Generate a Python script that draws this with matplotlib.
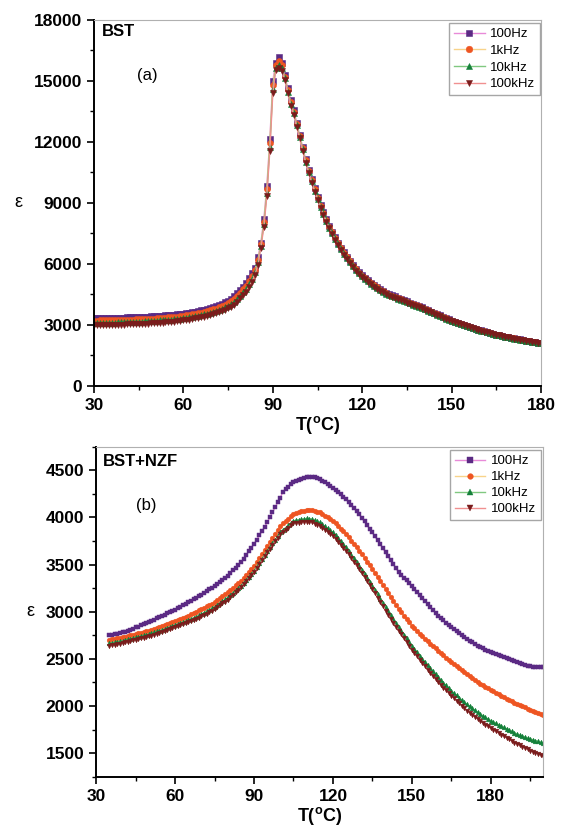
import matplotlib
matplotlib.use('Agg')
import matplotlib.pyplot as plt
from matplotlib.ticker import MultipleLocator

plt.rcParams['font.family'] = ['Liberation Sans', 'DejaVu Sans']
plt.rcParams['mathtext.fontset'] = 'custom'
plt.rcParams['mathtext.rm'] = 'Liberation Sans'
plt.rcParams['mathtext.bf'] = 'Liberation Sans:bold'

labels = ['100Hz', '1kHz', '10kHz', '100kHz']

# (a) BST, T = 30..180 in 1 degree steps
t_a = list(range(30, 181))
bst_100hz = [
    3330, 3332, 3335, 3338, 3341, 3345, 3348, 3352, 3356, 3360,
    3365, 3370, 3375, 3380, 3386, 3392, 3398, 3405, 3412, 3420,
    3428, 3437, 3446, 3456, 3467, 3480, 3494, 3509, 3525, 3542,
    3560, 3580, 3602, 3626, 3652, 3680, 3712, 3746, 3784, 3826,
    3880, 3930, 3985, 4045, 4115, 4195, 4290, 4410, 4560, 4720,
    4885, 5050, 5290, 5540, 5820, 6330, 7050, 8195, 9850, 12130,
    15000, 15870, 16160, 15900, 15290, 14640, 14060, 13570, 12950, 12340,
    11770, 11150, 10620, 10160, 9720, 9310, 8900, 8570, 8195, 7870,
    7590, 7310, 7050, 6800, 6570, 6360, 6160, 5950, 5770, 5605,
    5460, 5330, 5205, 5085, 4975, 4870, 4770, 4675, 4590, 4520,
    4460, 4400, 4340, 4280, 4220, 4160, 4100, 4040, 3985, 3925,
    3870, 3800, 3730, 3660, 3595, 3530, 3465, 3400, 3335, 3270,
    3200, 3150, 3100, 3050, 3000, 2950, 2905, 2860, 2815, 2770,
    2730, 2690, 2650, 2610, 2570, 2530, 2500, 2465, 2430, 2400,
    2370, 2340, 2310, 2285, 2258, 2230, 2205, 2180, 2155, 2132, 2110]
bst_1khz = [
    3215, 3217, 3220, 3223, 3226, 3230, 3233, 3237, 3241, 3245,
    3250, 3255, 3260, 3265, 3271, 3277, 3283, 3290, 3297, 3305,
    3315, 3324, 3333, 3343, 3354, 3367, 3381, 3396, 3412, 3429,
    3448, 3468, 3490, 3514, 3540, 3568, 3600, 3634, 3672, 3714,
    3760, 3808, 3862, 3920, 3988, 4067, 4158, 4273, 4420, 4583,
    4748, 4913, 5155, 5403, 5700, 6200, 6970, 8070, 9680, 11940,
    14800, 15760, 15980, 15770, 15210, 14560, 13960, 13490, 12880, 12285,
    11700, 11090, 10565, 10105, 9665, 9255, 8845, 8515, 8155, 7830,
    7548, 7268, 7010, 6763, 6533, 6320, 6123, 5917, 5737, 5572,
    5428, 5298, 5175, 5057, 4947, 4843, 4743, 4650, 4565, 4497,
    4437, 4377, 4317, 4258, 4199, 4140, 4081, 4021, 3967, 3908,
    3853, 3784, 3715, 3645, 3581, 3517, 3452, 3388, 3324, 3259,
    3190, 3141, 3091, 3042, 2993, 2943, 2899, 2855, 2810, 2766,
    2723, 2684, 2645, 2605, 2566, 2527, 2497, 2462, 2428, 2398,
    2363, 2334, 2305, 2280, 2253, 2226, 2201, 2177, 2152, 2129, 2105]
bst_10khz = [
    3097, 3099, 3102, 3105, 3108, 3112, 3115, 3119, 3123, 3127,
    3135, 3140, 3145, 3150, 3156, 3162, 3168, 3175, 3182, 3190,
    3201, 3210, 3219, 3229, 3240, 3253, 3267, 3282, 3298, 3315,
    3337, 3357, 3379, 3403, 3429, 3457, 3489, 3523, 3561, 3603,
    3640, 3687, 3738, 3795, 3862, 3938, 4027, 4137, 4285, 4447,
    4612, 4777, 5020, 5267, 5580, 6080, 6900, 7950, 9510, 11760,
    14600, 15650, 15800, 15630, 15130, 14470, 13870, 13410, 12810, 12235,
    11635, 11035, 10515, 10055, 9610, 9200, 8790, 8460, 8115, 7790,
    7503, 7223, 6970, 6723, 6493, 6280, 6087, 5883, 5703, 5538,
    5393, 5268, 5145, 5027, 4917, 4815, 4717, 4622, 4540, 4472,
    4412, 4354, 4296, 4236, 4178, 4120, 4061, 4002, 3949, 3890,
    3836, 3768, 3700, 3630, 3567, 3504, 3440, 3376, 3312, 3248,
    3180, 3131, 3082, 3034, 2985, 2936, 2893, 2850, 2805, 2762,
    2717, 2678, 2640, 2600, 2562, 2524, 2494, 2460, 2425, 2396,
    2357, 2328, 2300, 2275, 2248, 2222, 2198, 2174, 2149, 2126, 2100]
bst_100khz = [
    2980, 2982, 2985, 2988, 2991, 2995, 2998, 3002, 3006, 3010,
    3020, 3025, 3030, 3035, 3041, 3047, 3053, 3060, 3067, 3075,
    3088, 3097, 3106, 3116, 3127, 3140, 3154, 3169, 3185, 3202,
    3225, 3245, 3267, 3291, 3317, 3345, 3377, 3411, 3449, 3491,
    3520, 3565, 3615, 3670, 3735, 3810, 3895, 4000, 4150, 4310,
    4475, 4640, 4885, 5130, 5460, 5950, 6800, 7830, 9340, 11570,
    14390, 15540, 15620, 15500, 15050, 14390, 13770, 13330, 12750, 12180,
    11570, 10980, 10460, 10000, 9555, 9145, 8740, 8410, 8080, 7750,
    7460, 7180, 6930, 6690, 6460, 6240, 6050, 5850, 5670, 5505,
    5360, 5235, 5115, 4998, 4890, 4788, 4690, 4598, 4515, 4447,
    4390, 4332, 4274, 4216, 4158, 4100, 4042, 3984, 3931, 3873,
    3820, 3752, 3684, 3616, 3553, 3490, 3427, 3364, 3301, 3238,
    3170, 3122, 3074, 3026, 2978, 2930, 2887, 2844, 2801, 2758,
    2710, 2672, 2634, 2596, 2558, 2520, 2491, 2457, 2423, 2394,
    2350, 2322, 2294, 2270, 2244, 2218, 2194, 2170, 2146, 2124, 2095]

# (b) BST+NZF, T = 35..200 in 1 degree steps
t_b = list(range(35, 201))
nzf_100hz = [
    2750, 2755, 2760, 2767, 2773,
    2780, 2790, 2800, 2811, 2822, 2833, 2843, 2854, 2865, 2876,
    2887, 2901, 2915, 2929, 2943, 2957, 2970, 2983, 2996, 3009,
    3021, 3037, 3052, 3068, 3083, 3099, 3115, 3131, 3148, 3164,
    3180, 3199, 3218, 3237, 3256, 3275, 3296, 3317, 3338, 3360,
    3381, 3409, 3437, 3465, 3493, 3522, 3561, 3600, 3639, 3678,
    3716, 3762, 3808, 3854, 3900, 3946, 3999, 4052, 4105, 4158,
    4210, 4270, 4300, 4325, 4350, 4370, 4382, 4394, 4405, 4414,
    4422, 4426, 4430, 4428, 4418, 4405, 4390, 4375, 4355, 4336,
    4316, 4292, 4268, 4243, 4218, 4193, 4161, 4129, 4098, 4066,
    4034, 3995, 3956, 3918, 3879, 3840, 3798, 3755, 3713, 3670,
    3628, 3586, 3543, 3501, 3458, 3416, 3386, 3356, 3332, 3304,
    3275, 3243, 3211, 3180, 3148, 3116, 3084, 3052, 3021, 2989,
    2957, 2932, 2907, 2883, 2858, 2833, 2812, 2791, 2770, 2749,
    2728, 2710, 2693, 2675, 2658, 2640, 2626, 2612, 2597, 2583,
    2569, 2558, 2548, 2537, 2527, 2516, 2505, 2495, 2484, 2474,
    2463, 2455, 2446, 2438, 2429, 2421, 2418, 2415, 2413, 2411,
    2410]
nzf_1khz = [
    2700, 2706, 2711, 2717, 2722,
    2728, 2735, 2742, 2749, 2756, 2763, 2770, 2777, 2785, 2792,
    2799, 2809, 2820, 2830, 2841, 2851, 2862, 2872, 2883, 2893,
    2904, 2915, 2925, 2936, 2946, 2957, 2971, 2985, 3000, 3014,
    3028, 3042, 3056, 3071, 3085, 3099, 3120, 3141, 3162, 3183,
    3204, 3229, 3254, 3278, 3303, 3328, 3360, 3392, 3423, 3455,
    3487, 3529, 3572, 3614, 3657, 3699, 3741, 3784, 3826, 3868,
    3910, 3935, 3960, 3984, 4009, 4034, 4043, 4052, 4062, 4071,
    4080, 4080, 4079, 4070, 4061, 4052, 4034, 4016, 3999, 3981,
    3963, 3935, 3907, 3878, 3850, 3822, 3787, 3752, 3716, 3681,
    3646, 3607, 3568, 3530, 3491, 3452, 3410, 3367, 3325, 3282,
    3240, 3198, 3155, 3113, 3070, 3028, 2993, 2957, 2922, 2886,
    2851, 2823, 2795, 2766, 2738, 2710, 2685, 2661, 2636, 2612,
    2587, 2562, 2537, 2513, 2488, 2463, 2442, 2421, 2399, 2378,
    2357, 2336, 2315, 2293, 2272, 2251, 2236, 2220, 2205, 2189,
    2174, 2158, 2142, 2125, 2109, 2093, 2079, 2065, 2050, 2036,
    2022, 2010, 1998, 1986, 1974, 1962, 1951, 1939, 1928, 1916,
    1905]
nzf_10khz = [
    2665, 2671, 2676, 2682, 2687,
    2693, 2700, 2707, 2714, 2721, 2728, 2735, 2742, 2749, 2756,
    2763, 2772, 2781, 2791, 2800, 2809, 2819, 2829, 2838, 2848,
    2858, 2869, 2879, 2890, 2900, 2911, 2924, 2937, 2949, 2962,
    2975, 2991, 3006, 3022, 3037, 3053, 3073, 3092, 3112, 3131,
    3151, 3176, 3200, 3225, 3250, 3275, 3307, 3339, 3370, 3402,
    3434, 3476, 3519, 3561, 3604, 3646, 3685, 3724, 3762, 3801,
    3840, 3865, 3889, 3914, 3938, 3963, 3968, 3973, 3978, 3983,
    3988, 3985, 3981, 3970, 3958, 3946, 3925, 3904, 3882, 3861,
    3840, 3808, 3776, 3745, 3713, 3681, 3642, 3603, 3565, 3526,
    3487, 3445, 3402, 3360, 3317, 3275, 3229, 3183, 3138, 3092,
    3046, 3003, 2961, 2918, 2876, 2833, 2794, 2756, 2717, 2679,
    2640, 2605, 2569, 2534, 2498, 2463, 2431, 2399, 2368, 2336,
    2304, 2276, 2248, 2219, 2191, 2163, 2138, 2114, 2089, 2065,
    2040, 2019, 1998, 1976, 1955, 1934, 1916, 1899, 1881, 1864,
    1846, 1832, 1818, 1803, 1789, 1775, 1761, 1746, 1732, 1718,
    1704, 1693, 1683, 1672, 1662, 1651, 1643, 1634, 1626, 1617,
    1609]
nzf_100khz = [
    2640, 2646, 2651, 2657, 2662,
    2668, 2675, 2682, 2689, 2696, 2703, 2710, 2717, 2725, 2732,
    2739, 2747, 2756, 2764, 2773, 2781, 2792, 2802, 2813, 2823,
    2834, 2845, 2855, 2866, 2876, 2887, 2900, 2912, 2925, 2937,
    2950, 2966, 2981, 2997, 3012, 3028, 3048, 3067, 3087, 3107,
    3127, 3153, 3179, 3205, 3231, 3257, 3289, 3321, 3352, 3384,
    3416, 3458, 3501, 3543, 3586, 3628, 3667, 3706, 3744, 3783,
    3822, 3845, 3869, 3892, 3916, 3939, 3942, 3945, 3947, 3950,
    3953, 3950, 3946, 3934, 3923, 3911, 3890, 3869, 3847, 3826,
    3805, 3773, 3741, 3710, 3678, 3646, 3607, 3568, 3530, 3491,
    3452, 3410, 3367, 3325, 3282, 3240, 3194, 3148, 3102, 3056,
    3010, 2968, 2926, 2883, 2841, 2799, 2759, 2718, 2678, 2637,
    2597, 2562, 2527, 2491, 2456, 2421, 2387, 2353, 2319, 2285,
    2251, 2223, 2195, 2166, 2138, 2110, 2083, 2056, 2030, 2003,
    1976, 1953, 1931, 1908, 1886, 1863, 1843, 1824, 1804, 1785,
    1765, 1748, 1731, 1713, 1696, 1679, 1663, 1647, 1630, 1614,
    1598, 1584, 1570, 1556, 1542, 1528, 1517, 1505, 1494, 1482,
    1475]

line_colors = ['#e88ad8', '#f8d38a', '#80c880', '#f09090']
marker_colors = ['#5b2a84', '#ee5522', '#14803a', '#7a1c1c']
markers = ['s', 'o', '^', 'v']

fig = plt.figure(figsize=(5.66, 8.30), dpi=100)
ax1 = fig.add_axes([0.166, 0.535, 0.790, 0.441])
ax2 = fig.add_axes([0.170, 0.064, 0.790, 0.398])


def style_axes(ax):
    for side in ['left', 'bottom']:
        ax.spines[side].set_linewidth(1.4)
        ax.spines[side].set_color('black')
    for side in ['top', 'right']:
        ax.spines[side].set_linewidth(0.8)
        ax.spines[side].set_color('#b0b0b0')
    ax.tick_params(which='both', direction='out', top=False, right=False)
    ax.tick_params(which='major', length=5, width=1.2, pad=3.5, labelsize=12.5)
    ax.tick_params(which='minor', length=3, width=1.0)
    for lab in ax.get_xticklabels() + ax.get_yticklabels():
        lab.set_fontweight('bold')
    ax.set_xlabel(r'T($^{\mathbf{o}}$C)', fontsize=13, fontweight='bold', labelpad=1)
    ax.set_ylabel('ε', fontsize=13, rotation=0, labelpad=11, va='center')


series_a = [bst_100hz, bst_1khz, bst_10khz, bst_100khz]
for ys, lab, lc, mc, mk in zip(series_a, labels, line_colors, marker_colors, markers):
    ax1.plot(t_a, ys, color=lc, lw=1.0, marker=mk, ms=4.3, mfc=mc, mec=mc,
             mew=0.4, label=lab)
ax1.set_xlim(30, 180)
ax1.set_ylim(0, 18000)
ax1.xaxis.set_major_locator(MultipleLocator(30))
ax1.xaxis.set_minor_locator(MultipleLocator(15))
ax1.yaxis.set_major_locator(MultipleLocator(3000))
ax1.yaxis.set_minor_locator(MultipleLocator(1500))
style_axes(ax1)
ax1.text(0.018, 0.988, 'BST', transform=ax1.transAxes, fontsize=12,
         fontweight='bold', va='top', ha='left')
ax1.text(48, 15250, '(a)', fontsize=12, ha='center', va='center')
leg1 = ax1.legend(loc='upper right', bbox_to_anchor=(0.998, 0.992), fontsize=9.5,
                  frameon=True, fancybox=False, edgecolor='#909090',
                  handlelength=2.3, labelspacing=0.33, borderpad=0.4,
                  handletextpad=0.4, borderaxespad=0, markerscale=1.1)
leg1.get_frame().set_linewidth(1.0)

series_b = [nzf_100hz, nzf_1khz, nzf_10khz, nzf_100khz]
for ys, lab, lc, mc, mk in zip(series_b, labels, line_colors, marker_colors, markers):
    ax2.plot(t_b, ys, color=lc, lw=1.0, marker=mk, ms=3.4, mfc=mc, mec=mc,
             mew=0.3, label=lab)
ax2.set_xlim(30, 200)
ax2.set_ylim(1250, 4750)
ax2.xaxis.set_major_locator(MultipleLocator(30))
ax2.xaxis.set_minor_locator(MultipleLocator(15))
ax2.yaxis.set_major_locator(MultipleLocator(500))
ax2.yaxis.set_minor_locator(MultipleLocator(250))
style_axes(ax2)
ax2.text(0.016, 0.976, 'BST+NZF', transform=ax2.transAxes, fontsize=12,
         fontweight='bold', va='top', ha='left')
ax2.text(49, 4130, '(b)', fontsize=12, ha='center', va='center')
leg2 = ax2.legend(loc='upper right', bbox_to_anchor=(0.995, 0.99), fontsize=9.5,
                  frameon=True, fancybox=False, edgecolor='#909090',
                  handlelength=2.3, labelspacing=0.28, borderpad=0.4,
                  handletextpad=0.4, borderaxespad=0, markerscale=1.2)
leg2.get_frame().set_linewidth(1.0)

fig.savefig('out.png', dpi=100)
